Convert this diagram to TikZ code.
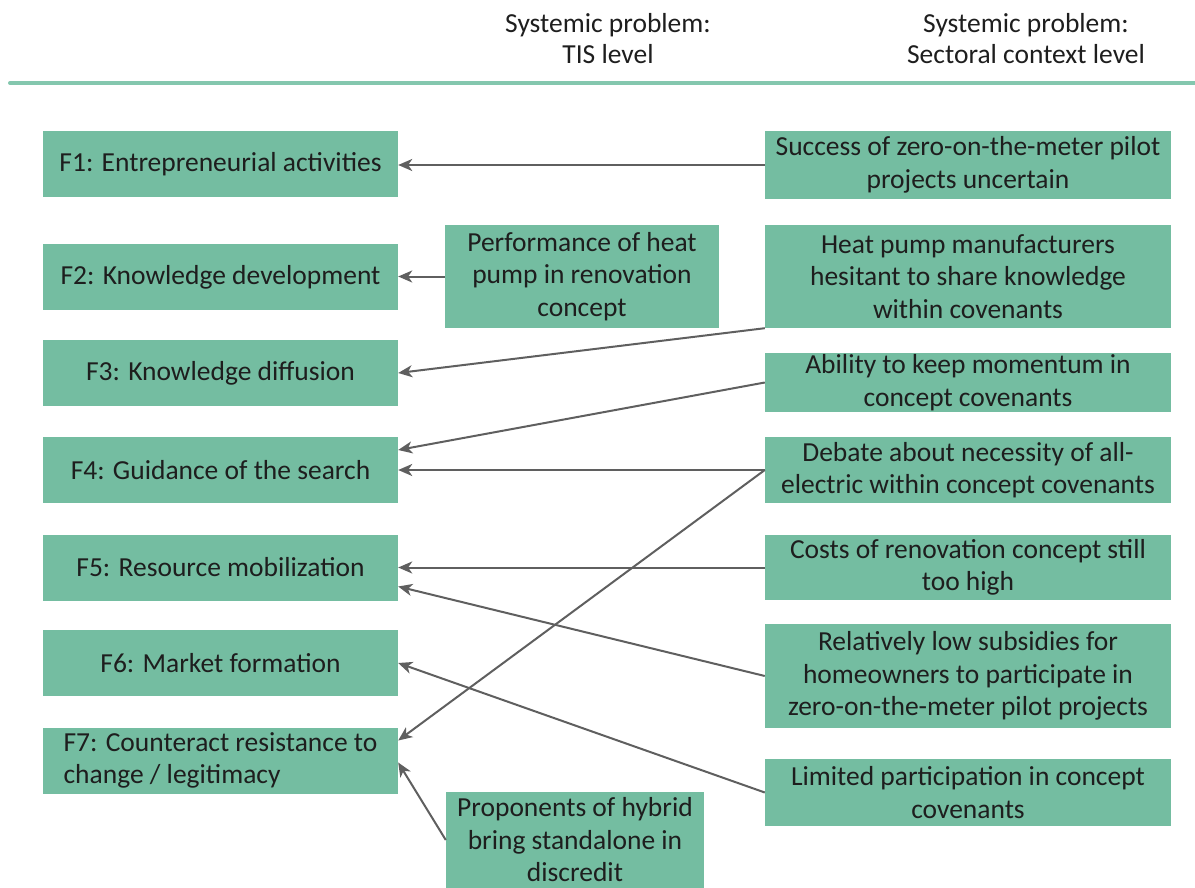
\documentclass[tikz,border=0pt]{standalone}
\usepackage{fontspec}
\setmainfont{Carlito}
\usetikzlibrary{arrows.meta}
\definecolor{boxgreen}{HTML}{74BDA1}
\definecolor{rulegreen}{HTML}{84C7AE}
\definecolor{linkgray}{HTML}{5F5F5F}
\definecolor{txt}{HTML}{1E1E1E}

\begin{document}
\begin{tikzpicture}[x=1pt,y=-1pt,
  box/.style={fill=boxgreen, inner sep=0pt, align=center, text=txt,
    font=\fontsize{27.5}{32.5}\selectfont},
  fbox/.style={box, minimum width=355pt, minimum height=66pt},
  rbox/.style={box, minimum width=406pt},
  link/.style={draw=linkgray, line width=2pt,
    -{Stealth[length=14pt,width=12pt,inset=4pt]}},
  head/.style={align=center, text=txt, font=\fontsize{27.5}{31}\selectfont}]
\useasboundingbox (0,0) rectangle (1195,888);

% column headings and rule
\node[head] (h1) at (608,39) {Systemic problem:\\TIS level};
\node[head] (h2) at (1026,39) {Systemic problem:\\Sectoral context level};
\coordinate (ruleL) at (10,83);
\coordinate (ruleR) at (1195,83);
\draw[rulegreen, line width=4pt, line cap=round] (ruleL) -- (ruleR);

% system functions
\node[fbox] (f1) at (220.5,164.5) {F1: Entrepreneurial activities};
\node[fbox] (f2) at (220.5,277) {F2: Knowledge development};
\node[fbox] (f3) at (220.5,373) {F3: Knowledge diffusion};
\node[fbox] (f4) at (220.5,470) {F4: Guidance of the search};
\node[fbox] (f5) at (220.5,567.5) {F5: Resource mobilization};
\node[fbox] (f6) at (220.5,663) {F6: Market formation};
\node[fbox, align=left] (f7) at (220.5,760.5) {F7: Counteract resistance to\\change / legitimacy};

% TIS-level problems
\node[box, minimum width=274pt, minimum height=103pt] (m1) at (582,276.5)
  {Performance of heat\\pump in renovation\\concept};
\node[box, minimum width=258pt, minimum height=96pt] (m2) at (575,840)
  {Proponents of hybrid\\bring standalone in\\discredit};

% sectoral context problems
\node[rbox, minimum height=68pt] (r1) at (968,165)
  {Success of zero-on-the-meter pilot\\projects uncertain};
\node[rbox, minimum height=103pt] (r2) at (968,276.5)
  {Heat pump manufacturers\\hesitant to share knowledge\\within covenants};
\node[rbox, minimum height=59pt] (r3) at (968,382.5)
  {Ability to keep momentum in\\concept covenants};
\node[rbox, minimum height=66pt] (r4) at (968,470)
  {Debate about necessity of all-\\electric within concept covenants};
\node[rbox, minimum height=65pt] (r5) at (968,567.5)
  {Costs of renovation concept still\\too high};
\node[rbox, minimum height=104pt] (r6) at (968,676)
  {Relatively low subsidies for\\homeowners to participate in\\zero-on-the-meter pilot projects};
\node[rbox, minimum height=67pt] (r7) at (968,792.5)
  {Limited participation in concept\\covenants};

% links
\draw[link] (r1.west) -- (r1.west -| f1.east);
\draw[link] (m1.west) -- (m1.west -| f2.east);
\draw[link] (r2.south west) -- (f3.east);
\draw[link] (r3.west) -- ([yshift=20pt]f4.east);
\draw[link] (r4.west) -- (f4.east);
\draw[link] (r4.west) -- ([yshift=20pt]f7.east);
\draw[link] (r5.west) -- (f5.east);
\draw[link] (r6.west) -- ([yshift=-19pt]f5.east);
\draw[link] (r7.west) -- (f6.east);
\draw[link] (m2.west) -- ([yshift=-2pt]f7.east);
\end{tikzpicture}
\end{document}
